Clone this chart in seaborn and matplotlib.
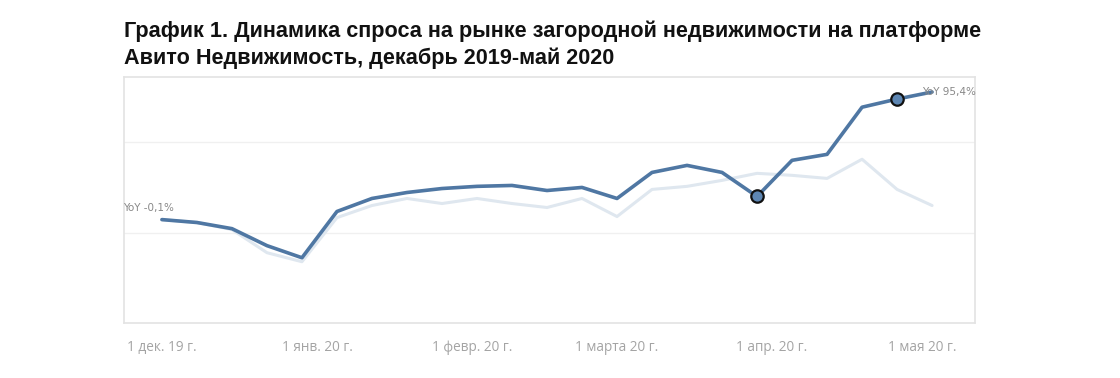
import matplotlib
matplotlib.use("Agg")
import matplotlib.pyplot as plt
import seaborn as sns
import pandas as pd
import numpy as np

# ---- data (index of demand, arbitrary units) ----
weeks = pd.date_range("2019-12-01", periods=23, freq="7D")
demand_2020 = [57.2, 55.6, 52.2, 42.8, 36.1, 61.7, 68.9, 72.2, 74.4, 75.6, 76.1, 73.3,
               75.0, 68.9, 83.3, 87.2, 83.3, 70.0, 90.0, 93.3, 119.4, 123.9, 127.8]
demand_prev = [57.2, 55.6, 51.7, 38.9, 33.9, 58.3, 65.0, 68.9, 66.1, 68.9, 66.1, 63.9,
               68.9, 58.9, 73.9, 75.6, 78.9, 82.8, 81.7, 80.0, 90.6, 73.9, 65.0]
highlight_idx = [17, 21]
tick_dates = pd.to_datetime(["2019-12-01", "2020-01-01", "2020-02-01",
                             "2020-03-01", "2020-04-01", "2020-05-01"])
tick_labels = ["1 дек. 19 г.", "1 янв. 20 г.", "1 февр. 20 г.",
               "1 марта 20 г.", "1 апр. 20 г.", "1 мая 20 г."]
label_start = "YoY -0,1%"
label_end = "YoY 95,4%"
title = ("График 1. Динамика спроса на рынке загородной недвижимости на платформе\n"
         "Авито Недвижимость, декабрь 2019-май 2020")

df = pd.DataFrame({"date": weeks, "cur": demand_2020, "prev": demand_prev})

sns.set_theme(style="white")
plt.rcParams["font.family"] = ["DejaVu Sans"]

W, H = 1120, 378
fig = plt.figure(figsize=(W / 100, H / 100), dpi=100)
ax = fig.add_axes([124 / W, 1 - 323 / H, (975 - 124) / W, (323 - 77) / H])

sns.lineplot(data=df, x="date", y="prev", ax=ax, color="#dfe7ef", linewidth=2.2)
sns.lineplot(data=df, x="date", y="cur", ax=ax, color="#4f77a3", linewidth=2.6)
sns.scatterplot(data=df.iloc[highlight_idx], x="date", y="cur", ax=ax,
                color="#5d86b3", edgecolor="#111111", linewidth=1.6, s=80, zorder=5)

ax.set_xlim(pd.Timestamp("2019-11-23 10:00"), pd.Timestamp("2020-05-11 14:00"))
ax.set_ylim(0, 136.1)
ax.set_yticks([50, 100])
ax.set_yticklabels([])
ax.tick_params(axis="y", length=0)
ax.grid(axis="y", color="#f0f0f0", linewidth=1)
ax.set_xticks(tick_dates)
ax.set_xticklabels(tick_labels, color="#a4a4a4", fontsize=9.8, family=["Open Sans", "DejaVu Sans"])
ax.tick_params(axis="x", length=0, pad=12)
ax.set_xlabel("")
ax.set_ylabel("")
for s in ax.spines.values():
    s.set_color("#e3e3e3")
    s.set_linewidth(1.2)

ax.annotate(label_start, (df["date"].iloc[0], df["cur"].iloc[0]),
            xytext=(-39, 12), textcoords="offset pixels",
            fontsize=7.5, color="#888888", va="center", ha="left")
ax.annotate(label_end, (df["date"].iloc[-1], df["cur"].iloc[-1]),
            xytext=(-10, 0), textcoords="offset pixels",
            fontsize=7.5, color="#888888", va="center", ha="left")

fig.text(124 / W, 1 - 21 / H, title, fontsize=15.6, fontweight="bold",
         family=["Liberation Sans", "DejaVu Sans"],
         va="top", ha="left", linespacing=1.3, color="#111111")

fig.savefig("out.png", dpi=100, facecolor="white")
